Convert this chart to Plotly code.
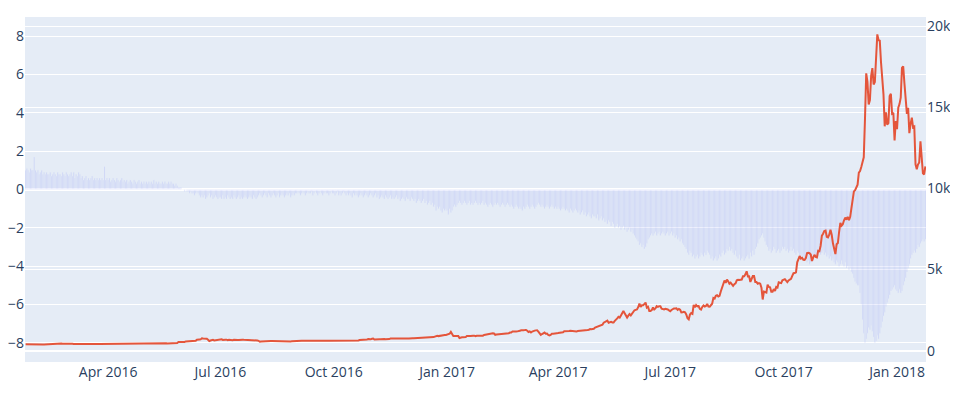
import pandas as pd
import plotly.graph_objects as go

START_DATE = "2016-01-25"
END_DATE = "2018-01-24"

# Daily price (right axis), by month
price_2016 = [
    392, 394, 395, 381, 381, 378, 369,
    373, 374, 369, 389, 387, 376, 378, 374, 372, 379, 381, 379, 392, 401, 407, 403, 401, 419, 422, 420, 438, 438, 436, 421, 425, 424, 432, 433, 437,
    437, 435, 421, 410, 399, 407, 413, 414, 413, 416, 420, 411, 413, 414, 415, 416, 418, 419, 408, 410, 412, 414, 418, 416, 416, 417, 424, 422, 416, 414, 416,
    417, 420, 420, 421, 423, 422, 421, 419, 419, 421, 422, 424, 425, 424, 430, 431, 427, 428, 435, 441, 450, 447, 450, 458, 463, 466, 445, 449, 455, 448,
    451, 444, 450, 446, 448, 460, 459, 458, 461, 450, 452, 454, 455, 455, 457, 454, 453, 454, 439, 442, 443, 439, 444, 445, 449, 450, 473, 530, 526, 533, 531,
    536, 537, 569, 574, 575, 585, 576, 581, 574, 577, 606, 673, 704, 686, 694, 764, 748, 758, 764, 735, 666, 591, 624, 665, 665, 629, 648, 647, 640, 673,
    676, 704, 659, 683, 670, 677, 640, 666, 651, 650, 648, 672, 656, 659, 663, 661, 679, 674, 672, 665, 665, 651, 655, 661, 655, 652, 655, 655, 656, 624, 624,
    607, 547, 567, 575, 576, 587, 591, 591, 585, 590, 587, 588, 585, 570, 567, 580, 573, 574, 575, 581, 581, 588, 584, 580, 578, 578, 570, 575, 574, 577, 574,
    572, 576, 598, 609, 606, 611, 614, 626, 622, 623, 606, 608, 609, 607, 608, 607, 606, 611, 610, 609, 596, 597, 603, 602, 600, 606, 605, 605, 605, 609,
    613, 610, 611, 612, 612, 612, 617, 618, 615, 617, 641, 636, 636, 636, 638, 641, 638, 637, 631, 630, 632, 658, 657, 651, 654, 678, 683, 687, 714, 700, 699,
    730, 741, 689, 704, 703, 712, 706, 709, 721, 716, 714, 705, 702, 711, 714, 744, 741, 749, 752, 731, 740, 749, 742, 740, 736, 734, 729, 733, 732, 743,
    753, 773, 765, 765, 759, 763, 764, 769, 772, 774, 769, 769, 780, 780, 780, 784, 791, 790, 791, 799, 834, 865, 919, 922, 897, 909, 935, 976, 974, 962, 964,
]
price_2017 = [
    998, 1022, 1044, 1154, 1013, 903, 909, 912, 903, 908, 778, 809, 827, 819, 822, 832, 908, 887, 900, 896, 924, 921, 923, 893, 916, 918, 919, 921, 914, 921, 970,
    989, 1009, 1029, 1042, 1047, 1062, 1067, 1054, 978, 997, 1004, 1000, 996, 1009, 1010, 1033, 1050, 1055, 1049, 1077, 1118, 1121, 1180, 1172, 1142, 1174, 1189, 1191,
    1223, 1258, 1281, 1263, 1266, 1273, 1226, 1150, 1188, 1117, 1176, 1226, 1236, 1250, 1258, 1177, 1071, 972, 1024, 1047, 1117, 1040, 1047, 968, 936, 966, 1046, 1045, 1039, 1038, 1072,
    1081, 1090, 1144, 1143, 1133, 1196, 1191, 1182, 1208, 1208, 1226, 1218, 1181, 1186, 1185, 1187, 1205, 1208, 1215, 1255, 1260, 1251, 1253, 1245, 1270, 1290, 1331, 1317, 1322, 1348,
    1421, 1453, 1491, 1537, 1555, 1578, 1597, 1724, 1755, 1788, 1848, 1725, 1773, 1783, 1739, 1734, 1839, 1888, 1988, 2085, 2042, 2174, 2321, 2444, 2305, 2203, 2038, 2155, 2255, 2175, 2286,
    2407, 2489, 2516, 2538, 2678, 2907, 2701, 2798, 2795, 2895, 2962, 2655, 2706, 2449, 2450, 2498, 2664, 2536, 2600, 2742, 2700, 2743, 2737, 2590, 2573, 2538, 2577, 2574, 2541, 2481,
    2435, 2506, 2565, 2601, 2601, 2608, 2519, 2572, 2519, 2354, 2366, 2393, 2363, 2233, 1998, 1930, 2228, 2318, 2272, 2817, 2667, 2810, 2730, 2754, 2577, 2530, 2696, 2791, 2724, 2758, 2876,
    2718, 2711, 2804, 2895, 3252, 3213, 3379, 3419, 3342, 3381, 3651, 3885, 4073, 4326, 4182, 4377, 4277, 4131, 4193, 4088, 4001, 4100, 4151, 4334, 4372, 4353, 4382, 4383, 4583, 4589, 4703,
    4892, 4578, 4583, 4236, 4376, 4597, 4599, 4228, 4226, 4122, 4161, 4130, 3882, 3154, 3637, 3625, 3582, 4065, 3925, 3906, 3631, 3630, 3793, 3682, 3926, 3892, 4208, 4185, 4163, 4338,
    4404, 4409, 4317, 4229, 4328, 4370, 4426, 4610, 4772, 4782, 4826, 5447, 5647, 5831, 5678, 5725, 5605, 5591, 5708, 6011, 6031, 6008, 5930, 5526, 5750, 5904, 5780, 5753, 6154, 6130, 6468,
    7079, 7207, 7380, 7407, 7022, 6981, 7144, 7460, 7143, 6618, 6357, 5950, 6559, 6635, 7315, 7871, 7708, 7790, 8036, 8201, 8071, 8253, 8038, 8253, 8790, 9330, 9819, 9888, 10058, 10233,
    10975, 11075, 11323, 11657, 11916, 14291, 17100, 16570, 15178, 15455, 16936, 17415, 16408, 16564, 17706, 19498, 19141, 19114, 17777, 16624, 15803, 13831, 14699, 13926, 14027, 15700, 15838, 14607, 14657, 12952, 14156,
]
price_2018 = [
    13657, 14982, 15201, 15600, 17429, 17527, 16477, 15170, 14595, 14973, 13405, 13980, 14360, 13772, 13819, 11490, 11188, 11474, 11607, 12899, 11600, 10931, 10868, 11359,
]

# Daily bar values (left axis), by month
bars_2016 = [
    1.0, 1.1, 1.0, 0.9, 1.1, 1.0, 1.0,
    1.7, 1.0, 0.9, 1.0, 0.8, 0.9, 1.0, 0.8, 0.9, 0.8, 0.9, 0.8, 0.8, 0.9, 0.7, 0.8, 0.9, 0.8, 0.7, 0.9, 0.8, 0.8, 0.7, 0.9, 0.8, 0.7, 0.9, 0.8, 0.7,
    0.8, 0.9, 0.7, 0.9, 0.6, 0.8, 0.7, 0.9, 0.8, 0.6, 0.7, 0.5, 0.6, 0.7, 0.5, 0.6, 0.5, 0.6, 0.7, 0.5, 0.6, 0.5, 0.6, 0.5, 0.6, 0.5, 0.6, 0.5, 1.2, 0.5, 0.6,
    0.5, 0.6, 0.4, 0.5, 0.6, 0.5, 0.4, 0.6, 0.5, 0.4, 0.5, 0.6, 0.4, 0.5, 0.4, 0.5, 0.3, 0.4, 0.5, 0.4, 0.3, 0.5, 0.4, 0.3, 0.4, 0.5, 0.3, 0.4, 0.3, 0.4,
    0.3, 0.4, 0.3, 0.4, 0.3, 0.4, 0.3, 0.5, 0.3, 0.4, 0.3, 0.4, 0.3, 0.3, 0.4, 0.3, 0.4, 0.3, 0.3, 0.4, 0.3, 0.4, 0.3, 0.3, 0.2, 0.3, 0.2, 0.1, 0.1, 0.1, 0.0,
    0.0, -0.1, 0.0, -0.1, -0.1, -0.2, -0.1, -0.2, -0.2, -0.3, -0.2, -0.1, -0.2, -0.3, -0.4, -0.3, -0.4, -0.3, -0.5, -0.4, -0.3, -0.2, -0.4, -0.3, -0.5, -0.4, -0.3, -0.4, -0.5, -0.4,
    -0.4, -0.5, -0.3, -0.5, -0.4, -0.5, -0.3, -0.4, -0.5, -0.4, -0.5, -0.3, -0.4, -0.5, -0.4, -0.3, -0.5, -0.4, -0.5, -0.4, -0.3, -0.4, -0.5, -0.4, -0.3, -0.4, -0.5, -0.3, -0.4, -0.5, -0.4,
    -0.3, -0.2, -0.3, -0.4, -0.3, -0.2, -0.3, -0.4, -0.2, -0.3, -0.4, -0.3, -0.2, -0.3, -0.4, -0.3, -0.2, -0.4, -0.3, -0.2, -0.3, -0.4, -0.3, -0.2, -0.3, -0.2, -0.4, -0.3, -0.2, -0.3, -0.2,
    -0.2, -0.1, -0.2, -0.3, -0.2, -0.1, -0.2, -0.3, -0.2, -0.1, -0.2, -0.2, -0.1, -0.3, -0.2, -0.1, -0.2, -0.3, -0.2, -0.1, -0.2, -0.3, -0.2, -0.1, -0.2, -0.2, -0.3, -0.2, -0.1, -0.2,
    -0.2, -0.3, -0.2, -0.1, -0.3, -0.2, -0.3, -0.2, -0.1, -0.2, -0.3, -0.2, -0.3, -0.2, -0.3, -0.4, -0.2, -0.3, -0.2, -0.3, -0.4, -0.3, -0.2, -0.3, -0.4, -0.3, -0.2, -0.3, -0.4, -0.3, -0.2,
    -0.3, -0.4, -0.3, -0.2, -0.4, -0.3, -0.5, -0.4, -0.3, -0.4, -0.5, -0.3, -0.4, -0.5, -0.4, -0.3, -0.5, -0.4, -0.5, -0.4, -0.3, -0.5, -0.4, -0.6, -0.5, -0.4, -0.5, -0.6, -0.4, -0.5,
    -0.5, -0.6, -0.4, -0.5, -0.6, -0.5, -0.7, -0.6, -0.5, -0.6, -0.7, -0.6, -0.5, -0.7, -0.6, -0.8, -0.7, -0.6, -0.8, -0.7, -0.9, -0.8, -1.1, -0.9, -1.0, -0.9, -1.1, -1.2, -1.0, -1.1, -1.0,
]
bars_2017 = [
    -1.1, -1.3, -1.0, -1.2, -1.1, -0.9, -0.8, -0.9, -0.8, -0.7, -0.6, -0.7, -0.8, -0.7, -0.6, -0.7, -0.8, -0.7, -0.6, -0.8, -0.7, -0.8, -0.7, -0.6, -0.7, -0.8, -0.7, -0.8, -0.7, -0.6, -0.8,
    -0.7, -0.8, -0.9, -0.8, -0.7, -0.8, -0.9, -0.8, -0.7, -0.8, -0.7, -0.8, -0.9, -0.8, -0.7, -0.8, -0.9, -0.8, -0.7, -0.8, -0.9, -0.8, -0.9, -1.0, -0.9, -0.8, -0.9, -1.0,
    -0.9, -1.0, -1.1, -0.9, -1.0, -0.9, -0.8, -0.9, -1.0, -0.9, -0.8, -0.9, -1.0, -0.9, -0.8, -0.7, -0.8, -0.9, -0.8, -0.9, -1.0, -0.9, -0.8, -0.9, -1.0, -0.9, -0.8, -0.9, -1.0, -0.9, -1.0,
    -0.9, -1.0, -1.1, -1.0, -0.9, -1.0, -1.1, -1.0, -1.1, -1.2, -1.0, -1.1, -1.2, -1.1, -1.0, -1.1, -1.2, -1.1, -1.3, -1.2, -1.1, -1.3, -1.2, -1.4, -1.3, -1.2, -1.4, -1.5, -1.3, -1.4,
    -1.4, -1.5, -1.3, -1.6, -1.5, -1.4, -1.6, -1.5, -1.7, -1.6, -1.8, -1.6, -1.7, -1.9, -1.7, -1.8, -2.0, -1.9, -1.8, -2.0, -1.9, -2.1, -2.0, -1.9, -2.1, -2.0, -2.2, -2.1, -2.0, -2.2, -2.1,
    -2.3, -2.4, -2.5, -2.6, -2.7, -2.9, -2.8, -3.0, -2.9, -3.1, -3.0, -2.8, -2.6, -2.5, -2.4, -2.3, -2.4, -2.3, -2.2, -2.4, -2.3, -2.2, -2.4, -2.3, -2.2, -2.3, -2.4, -2.3, -2.2, -2.4,
    -2.3, -2.2, -2.4, -2.3, -2.5, -2.4, -2.6, -2.5, -2.7, -2.6, -2.8, -2.9, -3.0, -3.1, -3.3, -3.4, -3.2, -3.3, -3.5, -3.4, -3.6, -3.5, -3.4, -3.6, -3.5, -3.3, -3.4, -3.5, -3.3, -3.4, -3.2,
    -3.3, -3.4, -3.6, -3.5, -3.7, -3.6, -3.5, -3.7, -3.6, -3.4, -3.5, -3.3, -3.2, -3.4, -3.3, -3.1, -3.2, -3.0, -3.2, -3.1, -3.3, -3.4, -3.2, -3.5, -3.6, -3.4, -3.7, -3.6, -3.5, -3.7, -3.6,
    -3.5, -3.4, -3.6, -3.3, -3.5, -3.2, -3.4, -3.1, -3.0, -2.8, -2.6, -2.5, -2.4, -2.3, -2.5, -2.7, -2.9, -3.0, -3.2, -3.1, -3.3, -3.2, -3.0, -3.1, -3.3, -3.2, -3.1, -3.3, -3.2, -3.0,
    -3.1, -3.0, -3.2, -3.1, -3.3, -3.2, -3.0, -3.2, -3.1, -3.3, -3.4, -3.2, -3.3, -3.5, -3.4, -3.6, -3.5, -3.7, -3.6, -3.8, -3.7, -3.9, -3.8, -3.6, -3.7, -3.5, -3.4, -3.6, -3.5, -3.3, -3.4,
    -3.3, -3.2, -3.4, -3.3, -3.5, -3.4, -3.6, -3.5, -3.7, -3.6, -3.8, -3.9, -3.7, -3.8, -4.0, -3.9, -3.7, -3.9, -4.0, -3.8, -4.1, -4.0, -4.2, -4.1, -4.3, -4.4, -4.6, -4.8, -4.9, -5.0,
    -5.0, -5.4, -6.0, -6.8, -7.5, -8.0, -7.8, -7.5, -7.2, -7.3, -7.1, -7.4, -7.7, -8.0, -7.9, -7.6, -7.8, -7.5, -7.2, -6.9, -6.6, -6.4, -6.1, -5.9, -5.7, -5.5, -5.3, -5.2, -5.1, -5.0, -5.2,
]
bars_2018 = [
    -5.3, -5.4, -5.2, -5.4, -5.3, -5.0, -4.8, -4.6, -4.3, -4.1, -3.9, -3.6, -3.4, -3.3, -3.2, -3.3, -3.1, -2.9, -3.0, -2.8, -2.7, -2.6, -2.7, -2.6,
]

dates = pd.date_range(START_DATE, END_DATE, freq="D")
price = price_2016 + price_2017 + price_2018
bars = bars_2016 + bars_2017 + bars_2018
assert len(price) == len(dates), (len(price), len(dates))
assert len(bars) == len(dates), (len(bars), len(dates))

fig = go.Figure()
fig.add_trace(go.Bar(x=dates, y=bars, marker_color="#636EFA", opacity=0.27,
                     yaxis="y", showlegend=False))
fig.add_trace(go.Scatter(x=dates, y=price, mode="lines",
                         line=dict(color="#E4553B", width=2), yaxis="y2", showlegend=False))

fig.update_layout(
    template="plotly",
    width=942, height=379,
    font=dict(size=14),
    margin=dict(l=17, r=24, t=9, b=25),
    showlegend=False,
    xaxis=dict(dtick="M3", tickformat="%b %Y", automargin=False),
    yaxis=dict(range=[-9, 9], dtick=2, automargin=False),
    yaxis2=dict(overlaying="y", side="right", range=[-700, 20570], automargin=False,
                tickvals=[0, 5000, 10000, 15000, 20000],
                ticktext=["0", "5k", "10k", "15k", "20k"]),
)

fig.write_html("out.html")
